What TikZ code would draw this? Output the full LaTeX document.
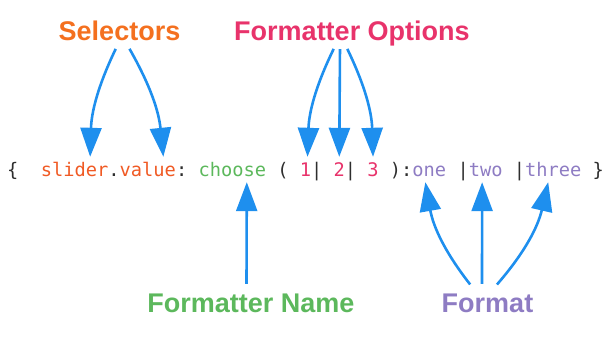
\documentclass[tikz,border=0pt]{standalone}
\usepackage{fontspec}
\setmainfont{Liberation Sans}
\setmonofont{DejaVu Sans Mono}
\usetikzlibrary{arrows.meta, positioning}
\definecolor{azul}{HTML}{1E8FEE}
\definecolor{naranja}{HTML}{F4701F}
\definecolor{naranjacod}{HTML}{F05A24}
\definecolor{rosa}{HTML}{E8336B}
\definecolor{verde}{HTML}{5CB85C}
\definecolor{morado}{HTML}{8E7CC3}
\definecolor{tinta}{HTML}{2E2E2E}
\tikzset{
  etiq/.style={font=\fontsize{27}{30}\selectfont\bfseries, anchor=base, inner xsep=0pt,
               inner ysep=6pt, text height=19pt, text depth=0pt},
  cod/.style={font=\fontsize{18.7}{22}\selectfont\ttfamily, anchor=base west, inner xsep=0pt,
              inner ysep=5pt, text height=14pt, text depth=1pt, text=tinta},
  flecha/.style={-{Triangle[length=29pt, width=21pt]}, line width=2.6pt, azul, shorten <=3pt},
}

\begin{document}
\begin{tikzpicture}[x=1pt, y=-1pt]
  \useasboundingbox (0,0) rectangle (614,341);
  % etiquetas
  \node[etiq, text=naranja] (selec) at (119.5,40) {Selectors};
  \node[etiq, text=rosa] (opciones) at (352,40) {Formatter Options};
  \node[etiq, text=verde] (nombre) at (251,312) {Formatter Name};
  \node[etiq, text=morado] (formato) at (487.5,312) {Format};
  % linea de codigo (una celda = 11.26pt)
  \begin{scope}[x=11.26pt, xshift=6.9pt]
    \node[cod] (llave1) at (0,176) {\{};
    \node[cod, text=naranjacod] (slider) at (3,176) {slider};
    \node[cod] (punto) at (9,176) {.};
    \node[cod, text=naranjacod] (value) at (10,176) {value};
    \node[cod] (dosp) at (15,176) {:};
    \node[cod, text=verde] (choose) at (17,176) {choose};
    \node[cod] (par1) at (24,176) {(};
    \node[cod, text=rosa] (uno) at (26,176) {1};
    \node[cod] (barra1) at (27,176) {|};
    \node[cod, text=rosa] (dos) at (29,176) {2};
    \node[cod] (barra2) at (30,176) {|};
    \node[cod, text=rosa] (tres) at (32,176) {3};
    \node[cod] (par2) at (34,176) {):};
    \node[cod, text=morado] (one) at (36,176) {one};
    \node[cod] (barra3) at (40,176) {|};
    \node[cod, text=morado] (two) at (41,176) {two};
    \node[cod] (barra4) at (45,176) {|};
    \node[cod, text=morado] (three) at (46,176) {three};
    \node[cod] (llave2) at (52,176) {\}};
  \end{scope}
  % flechas
  \draw[flecha] ([xshift=-2.5pt]selec.south) to[bend right=12] ([xshift=15.5pt]slider.north);
  \draw[flecha] ([xshift=8.5pt]selec.south) to[bend left=12] ([xshift=15.5pt]value.north);
  \draw[flecha] ([xshift=-17pt]opciones.south) to[bend right=12] ([xshift=2pt]uno.north);
  \draw[flecha] ([xshift=-12pt]opciones.south) -- (dos.north);
  \draw[flecha] ([xshift=-6pt]opciones.south) to[bend left=12] (tres.north);
  \draw[flecha] ([xshift=-4.5pt]nombre.north) -- ([xshift=14.5pt]choose.south);
  \draw[flecha] ([xshift=-15.5pt]formato.north) to[bend left=14] ([xshift=-4pt]one.south);
  \draw[flecha] ([xshift=-5.5pt]formato.north) -- ([xshift=-3.5pt]two.south);
  \draw[flecha] ([xshift=7.5pt]formato.north) to[bend right=14] ([xshift=-5pt]three.south);
\end{tikzpicture}
\end{document}
